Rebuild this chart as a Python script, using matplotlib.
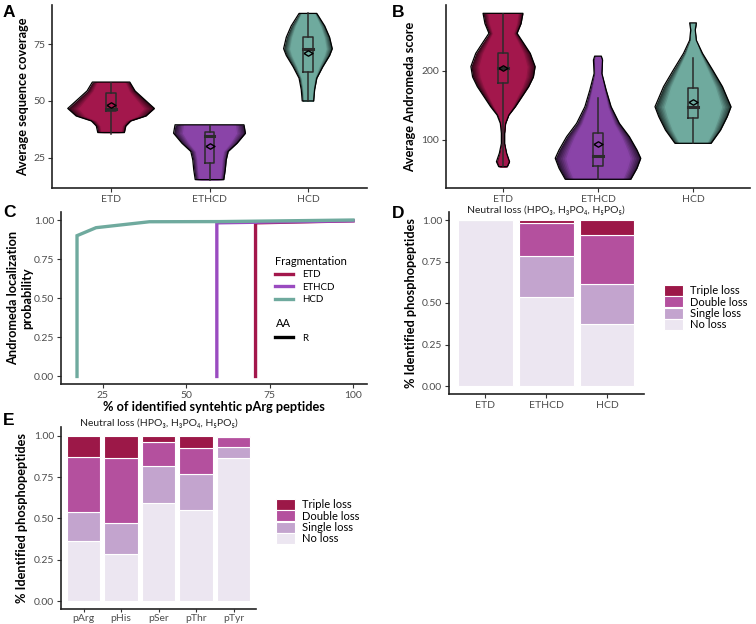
import numpy as np
import matplotlib
matplotlib.use('Agg')
import matplotlib.pyplot as plt
from matplotlib.colors import to_rgb
from matplotlib.lines import Line2D
from matplotlib.patches import Patch

plt.rcParams['font.family'] = ['Lato', 'DejaVu Sans']

W, H = 756, 624

frag = ['ETD', 'ETHCD', 'HCD']
frag_colors = ['#A3174C', '#8A44A8', '#6FAA9E']

# --- panel A: violin outlines (value, half width)
cov_etd_y = [36.1, 39.0, 41.2, 43.4, 46.7, 50.7, 54.4, 58.3]
cov_etd_w = [0.135, 0.15, 0.20, 0.355, 0.44, 0.338, 0.244, 0.19]
cov_ethcd_y = [15.4, 19.7, 24.1, 27.8, 31.4, 35.8, 39.5]
cov_ethcd_w = [0.145, 0.16, 0.17, 0.19, 0.28, 0.365, 0.35]
cov_hcd_y = [50.0, 55.0, 60.0, 65.0, 70.0, 73.0, 78.0, 83.0, 88.5]
cov_hcd_w = [0.058, 0.068, 0.09, 0.15, 0.22, 0.247, 0.22, 0.17, 0.09]
# whisker low, q1, median, q3, whisker high, mean
cov_box = [[35.5, 45.4, 46.5, 53.4, 58.1, 48.1],
           [15.4, 22.7, 34.6, 36.5, 39.5, 30.0],
           [50.0, 62.7, 72.7, 78.2, 88.5, 70.9]]

# --- panel B
sc_etd_y = [61.5, 68.7, 81, 95, 109.7, 124, 136, 148, 162.5, 177, 191, 206, 225, 239.5, 254, 268, 282.8]
sc_etd_w = [0.045, 0.069, 0.038, 0.017, 0.017, 0.028, 0.062, 0.13, 0.20, 0.27, 0.32, 0.338, 0.287, 0.218, 0.148, 0.19, 0.21]
sc_ethcd_y = [43.3, 47, 59.2, 73.6, 85.6, 104.8, 124, 148, 172, 196, 215.4, 221]
sc_ethcd_w = [0.345, 0.36, 0.41, 0.45, 0.41, 0.33, 0.225, 0.138, 0.086, 0.041, 0.048, 0.035]
sc_hcd_y = [95.2, 114.4, 133.6, 148, 177, 201, 225, 244, 258.7, 269]
sc_hcd_w = [0.19, 0.29, 0.36, 0.40, 0.31, 0.207, 0.10, 0.035, 0.024, 0.035]
sc_box = [[62.0, 181.8, 204.0, 225.0, 282.0, 204.3],
          [43.0, 62.5, 77.4, 109.7, 160.0, 93.8],
          [95.2, 131.3, 147.2, 175.5, 217.8, 155.3]]

# --- panel C: localization probability curves
etd_x = [70.8, 70.8, 100]
etd_p = [0.0, 0.982, 0.995]
ethcd_x = [59.2, 59.2, 100]
ethcd_p = [0.0, 0.982, 0.995]
hcd_x = [17.3, 17.3, 23.0, 39.0, 60.0, 100]
hcd_p = [0.0, 0.90, 0.951, 0.989, 0.99, 1.0]

# --- panels D and E: neutral loss fractions
loss_names = ['No loss', 'Single loss', 'Double loss', 'Triple loss']
loss_colors = ['#ECE6F1', '#C3A4CE', '#B4509E', '#9C1848']
d_no = [1.0, 0.538, 0.371]
d_single = [0.0, 0.245, 0.241]
d_double = [0.0, 0.201, 0.300]
d_triple = [0.0, 0.016, 0.088]

aa = ['pArg', 'pHis', 'pSer', 'pThr', 'pTyr']
e_no = [0.361, 0.287, 0.592, 0.550, 0.867]
e_single = [0.175, 0.185, 0.225, 0.219, 0.067]
e_double = [0.333, 0.395, 0.143, 0.155, 0.056]
e_triple = [0.131, 0.133, 0.040, 0.076, 0.010]

title_nl = 'Neutral loss (HPO\u2083, H\u2083PO\u2084, H\u2085PO\u2085)'

fig = plt.figure(figsize=(W / 100, H / 100), dpi=100)


def add_ax(l, r, t, b):
    return fig.add_axes([l / W, 1 - b / H, (r - l) / W, (b - t) / H])


def style(ax):
    for s in ['top', 'right']:
        ax.spines[s].set_visible(False)
    for s in ['left', 'bottom']:
        ax.spines[s].set_linewidth(1.2)
        ax.spines[s].set_color('#222222')
    ax.tick_params(labelsize=7.5, labelcolor='#4D4D4D', length=3, width=0.8,
                   color='#333333', pad=2)


def violin(ax, pos, ys, ws, color):
    ys = np.array(ys)
    ws = np.array(ws)
    base = np.array(to_rgb(color))
    dark = base * 0.3
    n = 12
    for i in range(n):
        s = 1 - 0.45 * i / (n - 1)
        t = min(1.0, 1.8 * i / (n - 1))
        c = dark * (1 - t) + base * t
        ax.fill_betweenx(ys, pos - ws * s, pos + ws * s, color=c, lw=0, zorder=2)
    ax.fill_betweenx(ys, pos - ws, pos + ws, facecolor='none', edgecolor='black',
                     lw=0.9, zorder=3)


def box(ax, pos, st, w=0.1):
    lo, q1, med, q3, hi, mean = st
    c = '#2B2B2B'
    ax.plot([pos, pos], [lo, q1], color=c, lw=1.1, zorder=4)
    ax.plot([pos, pos], [q3, hi], color=c, lw=1.1, zorder=4)
    ax.plot([pos - w / 2, pos + w / 2, pos + w / 2, pos - w / 2, pos - w / 2],
            [q1, q1, q3, q3, q1], color=c, lw=1.1, zorder=4)
    ax.plot([pos - w / 2, pos + w / 2], [med, med], color=c, lw=2.2, zorder=4)
    diamond = [(-1, 0), (0, 0.6), (1, 0), (0, -0.6), (-1, 0)]
    ax.plot([pos], [mean], marker=diamond, ms=6.5, mfc='none', mec='black',
            mew=1.0, zorder=5)


LAB = 9.2

# ---------------- A
axA = add_ax(52, 367, 5, 188)
for i, (ys, ws) in enumerate([(cov_etd_y, cov_etd_w), (cov_ethcd_y, cov_ethcd_w),
                              (cov_hcd_y, cov_hcd_w)]):
    violin(axA, i + 1, ys, ws, frag_colors[i])
    box(axA, i + 1, cov_box[i])
axA.set_xlim(0.4, 3.6)
axA.set_ylim(11.7, 92.2)
axA.set_xticks([1, 2, 3], frag)
axA.set_yticks([25, 50, 75])
style(axA)
axA.set_ylabel('Average sequence coverage', fontsize=LAB, fontweight='bold')
axA.yaxis.set_label_coords(-0.073, 0.5)

# ---------------- B
axB = add_ax(446, 750, 5, 188)
for i, (ys, ws) in enumerate([(sc_etd_y, sc_etd_w), (sc_ethcd_y, sc_ethcd_w),
                              (sc_hcd_y, sc_hcd_w)]):
    violin(axB, i + 1, ys, ws, frag_colors[i])
    box(axB, i + 1, sc_box[i])
axB.set_xlim(0.4, 3.6)
axB.set_ylim(30.7, 294.8)
axB.set_xticks([1, 2, 3], frag)
axB.set_yticks([100, 200])
style(axB)
axB.set_ylabel('Average Andromeda score', fontsize=LAB, fontweight='bold')
axB.yaxis.set_label_coords(-0.099, 0.5)

# ---------------- C
axC = add_ax(61, 367, 212.2, 384.3)
line_cols = ['#A3174C', '#9A4BC0', '#6FAA9E']
axC.plot(etd_x, etd_p, color=line_cols[0], lw=2.4, solid_joinstyle='miter')
axC.plot(ethcd_x, ethcd_p, color=line_cols[1], lw=2.4, solid_joinstyle='miter')
axC.plot(hcd_x, hcd_p, color=line_cols[2], lw=2.4, solid_joinstyle='miter')
axC.set_xlim(12.5, 104.2)
axC.set_ylim(-0.05, 1.05)
axC.set_xticks([25, 50, 75, 100])
axC.set_yticks([0, 0.25, 0.5, 0.75, 1.0], ['0.00', '0.25', '0.50', '0.75', '1.00'])
style(axC)
axC.set_ylabel('Andromeda localization\nprobability', fontsize=LAB, fontweight='bold')
axC.yaxis.set_label_coords(-0.092, 0.5)
axC.set_xlabel('% of identified syntehtic pArg peptides', fontsize=LAB, fontweight='bold')
axC.xaxis.set_label_coords(0.5, -0.095)

h1 = [Line2D([], [], color=c, lw=2.4) for c in line_cols]
leg1 = axC.legend(h1, frag, title='Fragmentation', loc='upper left',
                  bbox_to_anchor=(0.685, 0.775), frameon=False, fontsize=7,
                  title_fontsize=8, handlelength=1.8, handletextpad=0.9,
                  labelspacing=0.35, borderpad=0, alignment='left')
axC.add_artist(leg1)
h2 = [Line2D([], [], color='black', lw=2.4)]
axC.legend(h2, ['R'], title='AA', loc='upper left', bbox_to_anchor=(0.685, 0.415),
           frameon=False, fontsize=7, title_fontsize=8, handlelength=1.8,
           handletextpad=0.9, borderpad=0, alignment='left')


# ---------------- D / E stacked bars
def stacked(ax, n, parts):
    x = np.arange(1, n + 1)
    bottom = np.zeros(n)
    for vals, col in zip(parts, loss_colors):
        ax.bar(x, vals, bottom=bottom, width=0.9, color=col, edgecolor='white',
               lw=0.8, zorder=2)
        bottom = bottom + np.array(vals)
    ax.set_xlim(0.4, n + 0.6)
    ax.set_ylim(-0.05, 1.05)
    ax.set_yticks([0, 0.25, 0.5, 0.75, 1.0], ['0.00', '0.25', '0.50', '0.75', '1.00'])


def loss_legend(ax, px, py):
    hs = [Patch(facecolor=c, edgecolor='white', lw=0.8) for c in loss_colors[::-1]]
    fig.legend(hs, loss_names[::-1], loc='upper left', bbox_to_anchor=(px / W, 1 - py / H),
               frameon=False, fontsize=8, handlelength=1.7, handleheight=1.15,
               labelspacing=0.0, handletextpad=0.65, borderpad=0, borderaxespad=0)


axD = add_ax(449, 643.6, 211.7, 394.3)
stacked(axD, 3, [d_no, d_single, d_double, d_triple])
axD.set_xticks([1, 2, 3], frag)
style(axD)
axD.set_ylabel('% Identified phosphopeptides', fontsize=LAB, fontweight='bold')
axD.yaxis.set_label_coords(-0.164, 0.5)
axD.text(0.5, 1.007, title_nl, transform=axD.transAxes, ha='center', va='center',
         fontsize=7.5, color='#222222')
loss_legend(axD, 664, 285)

axE = add_ax(61, 256, 427.4, 609.3)
stacked(axE, 5, [e_no, e_single, e_double, e_triple])
axE.set_xticks(np.arange(1, 6), aa)
style(axE)
axE.tick_params(axis='x', length=2.5, pad=1)
axE.set_ylabel('% Identified phosphopeptides', fontsize=LAB, fontweight='bold')
axE.yaxis.set_label_coords(-0.169, 0.5)
axE.text(0.5, 1.0225, title_nl, transform=axE.transAxes, ha='center', va='center',
         fontsize=7.5, color='#222222')
loss_legend(axE, 276, 499)

# panel letters
for lab, x, y in [('A', 3, 17), ('B', 392, 17), ('C', 3, 217), ('D', 392, 218), ('E', 3, 425)]:
    fig.text(x / W, 1 - y / H, lab, fontsize=12.5, fontweight='bold',
             family='Liberation Sans', va='baseline', ha='left')

fig.savefig('out.png', dpi=100)
